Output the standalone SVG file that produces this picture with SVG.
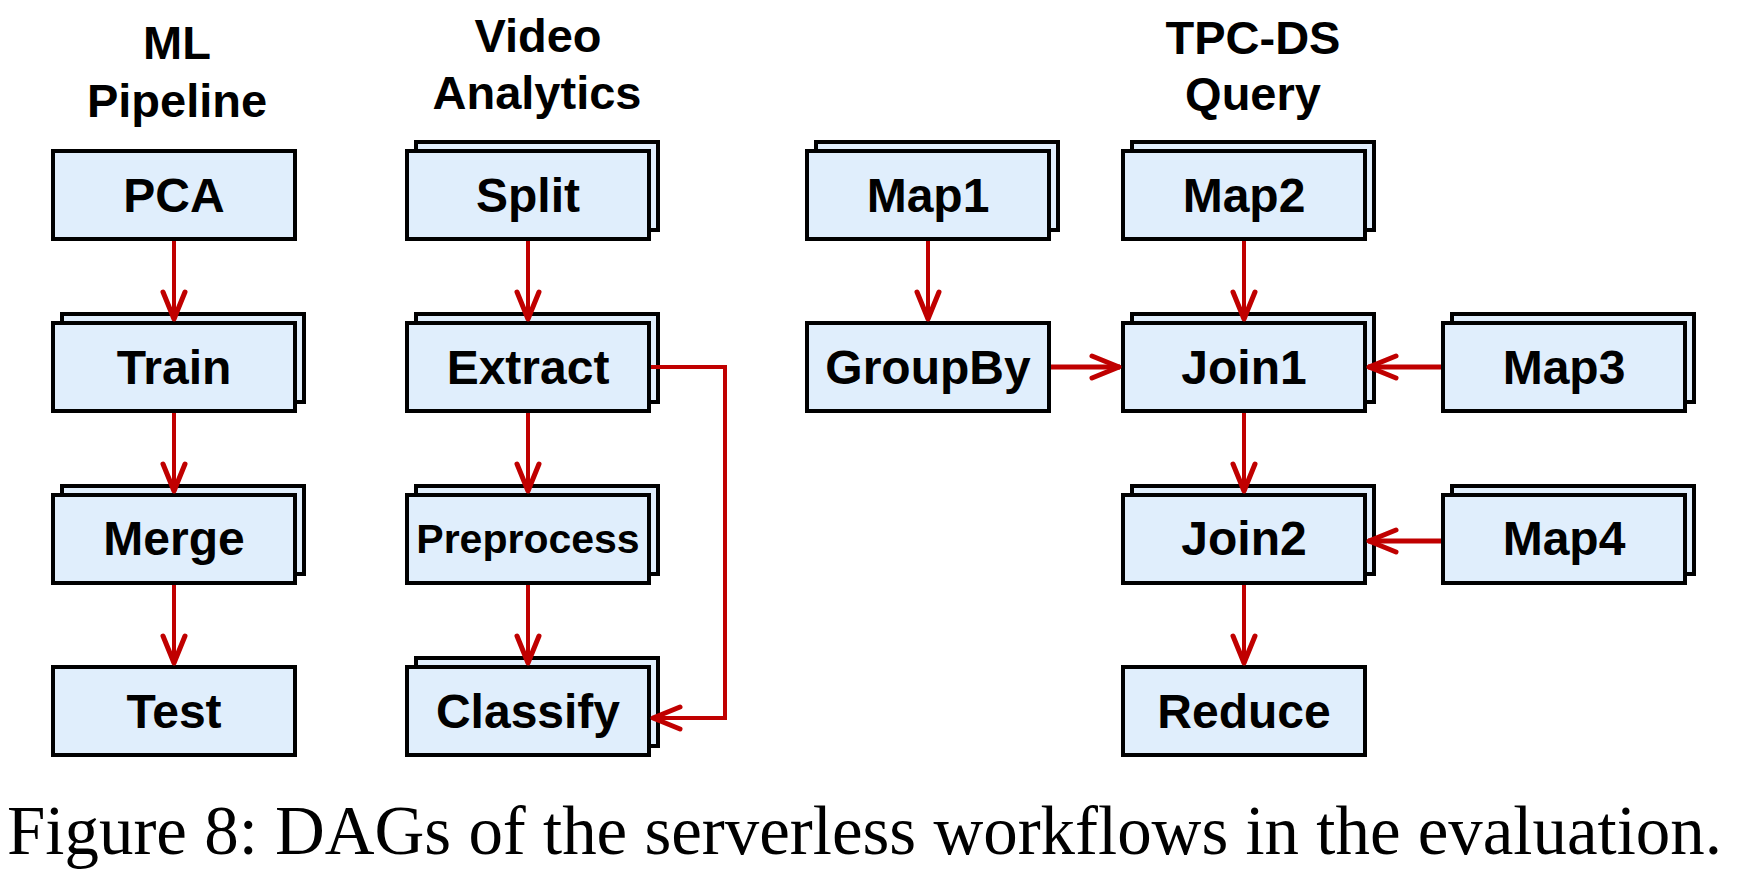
<svg xmlns="http://www.w3.org/2000/svg" width="1740" height="869" viewBox="0 0 1740 869">
<style>
.box{fill:#E0EEFC;stroke:#000;stroke-width:4}
.lbl{font-family:"Liberation Sans",Arial,sans-serif;font-weight:bold;font-size:48px;text-anchor:middle;fill:#000}
.small{font-size:41px}
.ttl{font-family:"Liberation Sans",Arial,sans-serif;font-weight:bold;font-size:47px;text-anchor:middle;fill:#000}
.edge{stroke:#C00000;stroke-width:4;fill:none}
.h{stroke-width:5}
.cap{font-family:"Liberation Serif","Times New Roman",serif;font-size:69px;fill:#000}
</style>
<defs>
<marker id="ah" markerUnits="userSpaceOnUse" viewBox="-34 -16 38 32" markerWidth="38" markerHeight="32" refX="0" refY="0" orient="auto">
<path d="M-28 -11 L-1 0 L-28 11" fill="none" stroke="#C00000" stroke-width="5" stroke-linecap="round" stroke-linejoin="round"/>
</marker>
</defs>
<rect width="1740" height="869" fill="#fff"/>
<g id="titles">
<text class="ttl" x="177" y="59">ML</text>
<text class="ttl" x="177" y="117">Pipeline</text>
<text class="ttl" x="538" y="52">Video</text>
<text class="ttl" x="537" y="109">Analytics</text>
<text class="ttl" x="1253" y="54">TPC-DS</text>
<text class="ttl" x="1253" y="110">Query</text>
</g>
<g id="node-pca"><rect class="box" x="53" y="151" width="242" height="88"/><text class="lbl" x="174" y="212">PCA</text></g>
<g id="node-train"><rect class="box" x="62" y="314" width="242" height="88"/><rect class="box" x="53" y="323" width="242" height="88"/><text class="lbl" x="174" y="384">Train</text></g>
<g id="node-merge"><rect class="box" x="62" y="486" width="242" height="88"/><rect class="box" x="53" y="495" width="242" height="88"/><text class="lbl" x="174" y="555">Merge</text></g>
<g id="node-test"><rect class="box" x="53" y="667" width="242" height="88"/><text class="lbl" x="174" y="728">Test</text></g>
<g id="node-split"><rect class="box" x="416" y="142" width="242" height="88"/><rect class="box" x="407" y="151" width="242" height="88"/><text class="lbl" x="528" y="212">Split</text></g>
<g id="node-extract"><rect class="box" x="416" y="314" width="242" height="88"/><rect class="box" x="407" y="323" width="242" height="88"/><text class="lbl" x="528" y="384">Extract</text></g>
<g id="node-preprocess"><rect class="box" x="416" y="486" width="242" height="88"/><rect class="box" x="407" y="495" width="242" height="88"/><text class="lbl small" x="528" y="553">Preprocess</text></g>
<g id="node-classify"><rect class="box" x="416" y="658" width="242" height="88"/><rect class="box" x="407" y="667" width="242" height="88"/><text class="lbl" x="528" y="728">Classify</text></g>
<g id="node-map1"><rect class="box" x="816" y="142" width="242" height="88"/><rect class="box" x="807" y="151" width="242" height="88"/><text class="lbl" x="928" y="212">Map1</text></g>
<g id="node-groupby"><rect class="box" x="807" y="323" width="242" height="88"/><text class="lbl" x="928" y="384">GroupBy</text></g>
<g id="node-map2"><rect class="box" x="1132" y="142" width="242" height="88"/><rect class="box" x="1123" y="151" width="242" height="88"/><text class="lbl" x="1244" y="212">Map2</text></g>
<g id="node-join1"><rect class="box" x="1132" y="314" width="242" height="88"/><rect class="box" x="1123" y="323" width="242" height="88"/><text class="lbl" x="1244" y="384">Join1</text></g>
<g id="node-map3"><rect class="box" x="1452" y="314" width="242" height="88"/><rect class="box" x="1443" y="323" width="242" height="88"/><text class="lbl" x="1564" y="384">Map3</text></g>
<g id="node-join2"><rect class="box" x="1132" y="486" width="242" height="88"/><rect class="box" x="1123" y="495" width="242" height="88"/><text class="lbl" x="1244" y="555">Join2</text></g>
<g id="node-map4"><rect class="box" x="1452" y="486" width="242" height="88"/><rect class="box" x="1443" y="495" width="242" height="88"/><text class="lbl" x="1564" y="555">Map4</text></g>
<g id="node-reduce"><rect class="box" x="1123" y="667" width="242" height="88"/><text class="lbl" x="1244" y="728">Reduce</text></g>
<g id="connectors">
<path class="edge" d="M174 241 V320" marker-end="url(#ah)"/>
<path class="edge" d="M174 413 V492" marker-end="url(#ah)"/>
<path class="edge" d="M174 585 V664" marker-end="url(#ah)"/>
<path class="edge" d="M528 241 V320" marker-end="url(#ah)"/>
<path class="edge" d="M528 413 V492" marker-end="url(#ah)"/>
<path class="edge" d="M528 585 V664" marker-end="url(#ah)"/>
<path class="edge" d="M651 367 H725 V718 H652" marker-end="url(#ah)"/>
<path class="edge" d="M928 241 V320" marker-end="url(#ah)"/>
<path class="edge" d="M1244 241 V320" marker-end="url(#ah)"/>
<path class="edge h" d="M1051 367 H1120" marker-end="url(#ah)"/>
<path class="edge h" d="M1441 367 H1368" marker-end="url(#ah)"/>
<path class="edge" d="M1244 413 V492" marker-end="url(#ah)"/>
<path class="edge h" d="M1441 541 H1368" marker-end="url(#ah)"/>
<path class="edge" d="M1244 585 V664" marker-end="url(#ah)"/>
</g>
<text class="cap" x="7" y="854" textLength="1715" lengthAdjust="spacingAndGlyphs">Figure 8: DAGs of the serverless workflows in the evaluation.</text>
</svg>
